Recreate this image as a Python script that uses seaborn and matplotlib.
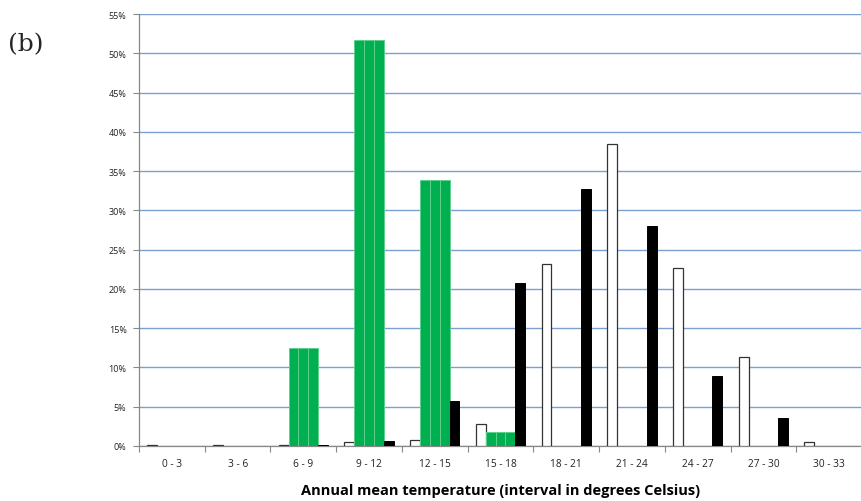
import numpy as np
import pandas as pd
import matplotlib
matplotlib.use('Agg')
import matplotlib.pyplot as plt
import seaborn as sns
from matplotlib.ticker import FuncFormatter

categories = ['0 - 3', '3 - 6', '6 - 9', '9 - 12', '12 - 15', '15 - 18',
              '18 - 21', '21 - 24', '24 - 27', '27 - 30', '30 - 33']
# percent of area per temperature interval
white_vals = [0.1, 0.1, 0.1, 0.5, 0.8, 2.8, 23.1, 38.5, 22.6, 11.3, 0.5]
green_vals = [0.0, 0.0, 12.5, 51.7, 33.9, 1.8, 0.0, 0.0, 0.0, 0.0, 0.0]
black_vals = [0.0, 0.0, 0.1, 0.6, 5.7, 20.7, 32.7, 28.0, 8.9, 3.6, 0.0]
series = ['white', 'green_a', 'green_b', 'green_c', 'black']

if __name__ == '__main__':
    df = pd.DataFrame({
        'interval': categories * 5,
        'series': np.repeat(series, len(categories)),
        'value': white_vals + green_vals * 3 + black_vals,
    })

    sns.set_style('white')
    plt.rcParams['font.family'] = ['Open Sans', 'DejaVu Sans']

    fig, ax = plt.subplots(figsize=(8.62, 5.02), dpi=100)
    fig.subplots_adjust(left=0.1613, right=1.0, top=0.970, bottom=0.110)

    palette = {'white': 'white', 'green_a': '#00b050', 'green_b': '#00b050',
               'green_c': '#00b050', 'black': 'black'}
    sns.barplot(data=df, x='interval', y='value', hue='series', hue_order=series,
                order=categories, palette=palette, width=0.75, gap=0,
                saturation=1, legend=False, ax=ax)

    edges = {'white': '#333333', 'green_a': '#5fd08e', 'green_b': '#5fd08e',
             'green_c': '#5fd08e', 'black': 'black'}
    for name, cont in zip(series, ax.containers):
        for p in cont:
            p.set_edgecolor(edges[name])
            p.set_linewidth(0.9 if name == 'white' else 0.7)
            p.set_zorder(3)

    ax.set_ylim(0, 55)
    ax.set_xlim(-0.5, len(categories) - 0.5)
    ax.set_yticks(np.arange(0, 56, 5))
    ax.yaxis.set_major_formatter(FuncFormatter(lambda v, _: '{:d}%'.format(int(round(v)))))
    ax.yaxis.grid(True, color='#7a9fd0', linewidth=1.0, zorder=0)
    ax.set_axisbelow(True)

    ax.set_xticks(np.arange(len(categories)))
    ax.set_xticklabels(categories)
    ax.set_xticks(np.arange(len(categories) + 1) - 0.5, minor=True)
    ax.tick_params(axis='x', which='major', length=0, pad=9, labelsize=7.3, colors='#222222')
    ax.tick_params(axis='x', which='minor', length=4, width=0.8, color='#888888', direction='out')
    ax.tick_params(axis='y', length=4, width=0.8, color='#888888', direction='out',
                   pad=5, labelsize=6.5, labelcolor='#222222')
    ax.tick_params(axis='both', bottom=True, left=True)
    ax.xaxis.set_tick_params(which='minor', bottom=True)

    for s in ['top', 'right']:
        ax.spines[s].set_visible(False)
    for s in ['left', 'bottom']:
        ax.spines[s].set_color('#888888')
        ax.spines[s].set_linewidth(0.9)

    ax.set_ylabel('')
    ax.set_xlabel('Annual mean temperature (interval in degrees Celsius)',
                  fontsize=10.5, fontweight='bold', labelpad=10, color='black')

    fig.text(0.009, 0.910, '(b)', fontsize=18, family='DejaVu Serif', va='center', ha='left')

    fig.savefig('out.png', dpi=100)
